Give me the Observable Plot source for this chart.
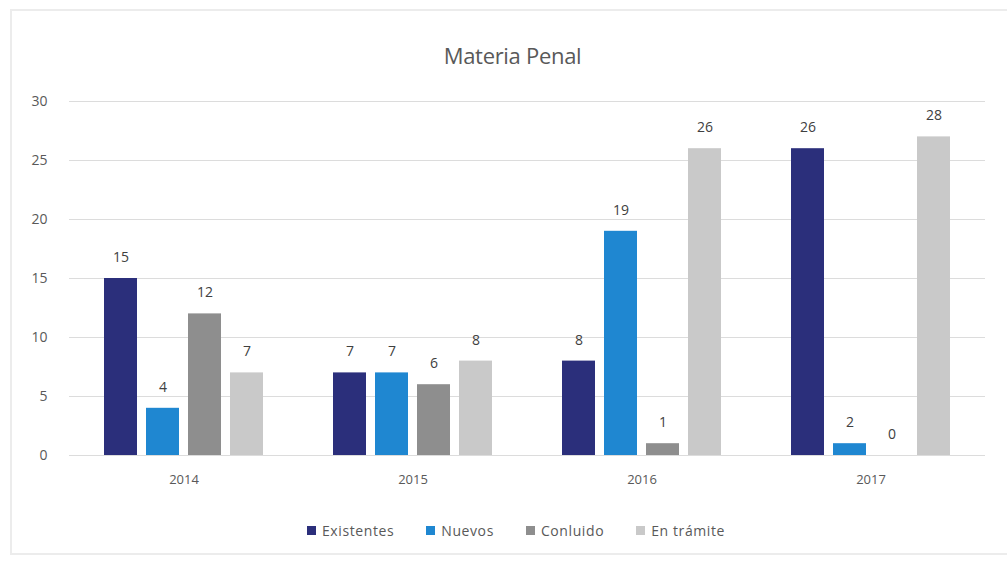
<!DOCTYPE html>
<html>
<head>
<meta charset="utf-8">
<script src="https://cdn.jsdelivr.net/npm/d3@7"></script>
<script src="https://cdn.jsdelivr.net/npm/@observablehq/plot@0.6"></script>
<style>
  html, body { margin: 0; padding: 0; background: #fff; }
  body { width: 1007px; height: 565px; position: relative; overflow: hidden; font-family: "Open Sans", sans-serif; }
  #frame { position: absolute; left: 10px; top: 9px; width: 1010px; height: 546px; border: 2px solid #ececec; box-sizing: border-box; }
  #title { position: absolute; left: 0; width: 1025px; top: 40px; text-align: center; font-size: 22px; color: #595959; letter-spacing: -0.3px; }
  #chart { position: absolute; left: 0; top: 80px; }
  #legend { position: absolute; left: 0; width: 1032px; top: 521px; text-align: center; font-size: 14px; color: #595959; letter-spacing: 0.6px; }
  #legend span.item { display: inline-block; margin: 0 16px; }
  #legend span.sw { display: inline-block; width: 9px; height: 9px; margin-right: 6px; vertical-align: 1px; }
</style>
</head>
<body>
<div id="frame"></div>
<div id="title">Materia Penal</div>
<div id="chart"></div>
<div id="legend"></div>
<script>
const years = ["2014", "2015", "2016", "2017"];
const series = ["Existentes", "Nuevos", "Conluido", "En trámite"];
const colors = ["#2b2f7b", "#1f87d1", "#8e8e8e", "#c9c9c9"];
// bar heights as drawn
const existentes = [15, 7, 8, 26];
const nuevos = [4, 7, 19, 1];
const conluido = [12, 6, 1, 0];
const enTramite = [7, 8, 26, 27];
// data labels as printed
const existentesLbl = ["15", "7", "8", "26"];
const nuevosLbl = ["4", "7", "19", "2"];
const conluidoLbl = ["12", "6", "1", "0"];
const enTramiteLbl = ["7", "8", "26", "28"];
const yTicks = [0, 5, 10, 15, 20, 25, 30];

const vals = [existentes, nuevos, conluido, enTramite];
const lbls = [existentesLbl, nuevosLbl, conluidoLbl, enTramiteLbl];
const data = [];
years.forEach((yr, i) => {
  series.forEach((s, j) => {
    data.push({year: yr, series: s, value: vals[j][i], label: lbls[j][i]});
  });
});

const chart = Plot.plot({
  width: 1007,
  height: 420,
  marginLeft: 68,
  marginRight: 22,
  marginTop: 21,
  marginBottom: 45,
  style: {fontFamily: "Open Sans, sans-serif", fontSize: "13px", color: "#595959", background: "transparent"},
  fx: {domain: years, padding: 0, label: null, axis: "bottom", tickSize: 0, tickPadding: 19},
  x: {domain: series, axis: null, paddingInner: 0.214, paddingOuter: 0.833},
  y: {domain: [0, 30], ticks: yTicks, label: null, tickSize: 0, tickPadding: 21, grid: false},
  color: {domain: series, range: colors},
  marks: [
    Plot.ruleY(yTicks, {stroke: "#dcdcdc", strokeWidth: 1}),
    Plot.axisY({ticks: yTicks, tickSize: 0, tickPadding: 22, label: null, fontSize: 14, fill: "#595959"}),
    Plot.barY(data, {fx: "year", x: "series", y: "value", fill: "series"}),
    Plot.text(data, {fx: "year", x: "series", y: "value", text: "label", dy: -21, fontSize: 14, fill: "#404040"})
  ]
});
document.getElementById("chart").appendChild(chart);

const leg = document.getElementById("legend");
series.forEach((s, j) => {
  const item = document.createElement("span");
  item.className = "item";
  const sw = document.createElement("span");
  sw.className = "sw";
  sw.style.background = colors[j];
  item.appendChild(sw);
  item.appendChild(document.createTextNode(s));
  leg.appendChild(item);
});
</script>
</body>
</html>
